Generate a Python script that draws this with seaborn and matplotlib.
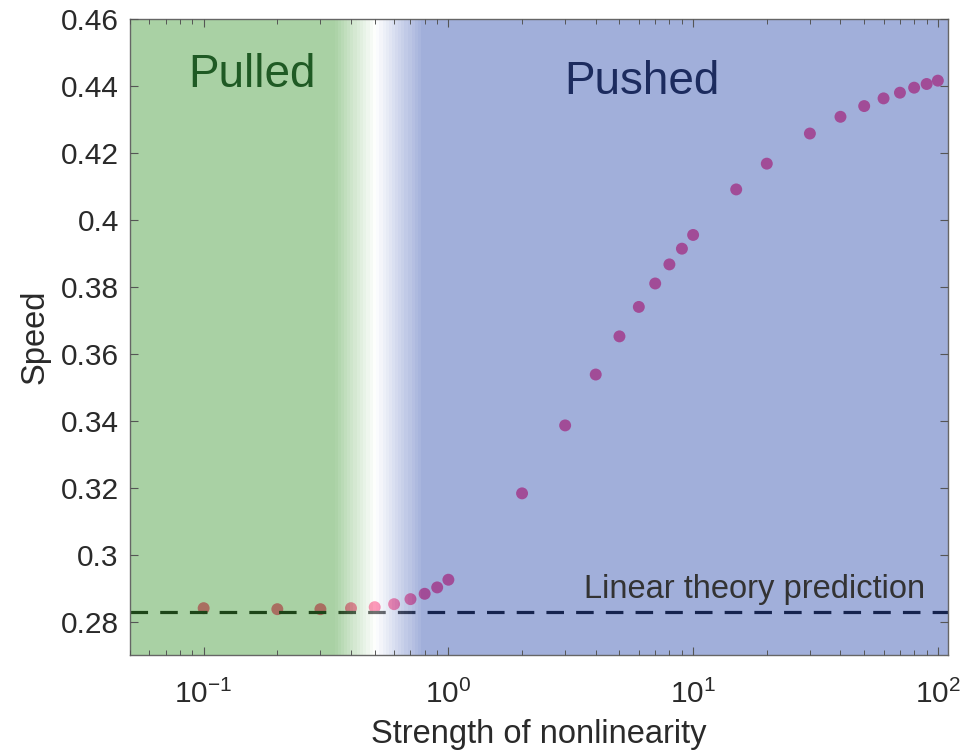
import numpy as np
import pandas as pd
import matplotlib
matplotlib.use("Agg")
import matplotlib.pyplot as plt
import seaborn as sns
from matplotlib.colors import LinearSegmentedColormap, Normalize
from matplotlib.ticker import LogLocator, FuncFormatter, FixedLocator, NullFormatter

# Front speed versus strength of nonlinearity
strength = [0.1, 0.2, 0.3, 0.4, 0.5, 0.6, 0.7, 0.8, 0.9, 1.0,
            2, 3, 4, 5, 6, 7, 8, 9, 10,
            15, 20, 30, 40, 50, 60, 70, 80, 90, 100]
speed = [0.2840, 0.2837, 0.2837, 0.2840, 0.2843, 0.2852, 0.2867, 0.2883, 0.2902, 0.2925,
         0.3183, 0.3386, 0.3538, 0.3652, 0.3740, 0.3810, 0.3867, 0.3914, 0.3955,
         0.4091, 0.4168, 0.4258, 0.4308, 0.4340, 0.4363, 0.4380, 0.4395, 0.4406, 0.4416]
linear_prediction = 0.2828

# Regime shading: pulled (green) -> transition (white) -> pushed (blue)
regime_edges = [0.34, 0.5, 0.78]
regime_colors = ["#429b37", "#ffffff", "#304faf"]
regime_labels = ["Pulled", "Pushed"]

x_limits = (0.05, 110)
y_limits = (0.27, 0.46)
y_ticks = [0.28, 0.30, 0.32, 0.34, 0.36, 0.38, 0.40, 0.42, 0.44, 0.46]

df = pd.DataFrame({"strength": strength, "speed": speed})

sns.set_style("white")
plt.rcParams["font.family"] = ["Liberation Sans", "DejaVu Sans"]
plt.rcParams["mathtext.fontset"] = "custom"
plt.rcParams["mathtext.rm"] = "Liberation Sans"
plt.rcParams["mathtext.it"] = "Liberation Sans:italic"
plt.rcParams["mathtext.bf"] = "Liberation Sans:bold"

fig = plt.figure(figsize=(9.7, 7.53), dpi=100)
ax = fig.add_axes([0.1340, 0.1301, 0.8433, 0.8446])
ax.set_xscale("log")

# data points and the linear-theory reference line (below the shading)
sns.scatterplot(data=df, x="strength", y="speed", s=74, color="#ff4a84",
                edgecolor="none", linewidth=0, zorder=2, ax=ax, legend=False)
ax.axhline(linear_prediction, color="black", lw=2.3,
           linestyle=(0, (5.5, 3.8)), zorder=2)

# translucent gradient overlay laid over points and line
lo, hi = np.log10(x_limits[0]), np.log10(x_limits[1])
stops = [0.0] + [(np.log10(v) - lo) / (hi - lo) for v in regime_edges] + [1.0]
cmap = LinearSegmentedColormap.from_list(
    "regimes", list(zip(stops, [regime_colors[0]] + regime_colors + [regime_colors[-1]])))
xe = np.logspace(lo, hi, 800)
ye = np.array(y_limits)
cvals = np.log10(np.sqrt(xe[:-1] * xe[1:]))[None, :]
ax.pcolormesh(xe, ye, cvals, cmap=cmap, norm=Normalize(lo, hi), alpha=0.45,
              shading="flat", edgecolors="none", antialiased=False, zorder=3)

ax.set_xlim(*x_limits)
ax.set_ylim(*y_limits)

ax.text(0.157, 0.4396, regime_labels[0], fontsize=33, color="#1f5a24",
        ha="center", va="baseline", zorder=6)
ax.text(6.2, 0.4375, regime_labels[1], fontsize=33, color="#1c2b5e",
        ha="center", va="baseline", zorder=6)
ax.text(88.8, 0.2871, "Linear theory prediction", fontsize=23.5, color="#333333",
        ha="right", va="baseline", zorder=6)

# axes styling
ax.xaxis.set_major_locator(LogLocator(base=10, numticks=10))
ax.xaxis.set_minor_locator(LogLocator(base=10, subs=np.arange(2, 10), numticks=20))
ax.xaxis.set_minor_formatter(NullFormatter())
ax.yaxis.set_major_locator(FixedLocator(y_ticks))
ax.yaxis.set_major_formatter(FuncFormatter(lambda v, p: f"{v:g}"))
ax.tick_params(axis="both", which="major", direction="in", length=6, width=0.8,
               color="#555555", labelsize=21.5, labelcolor="#2a2a2a",
               top=True, right=True, bottom=True, left=True)
ax.tick_params(axis="x", which="major", pad=18)
ax.tick_params(axis="y", which="major", pad=8)
ax.tick_params(axis="x", which="minor", direction="in", length=3.5, width=0.7,
               color="#555555", top=True, bottom=True)
for sp in ax.spines.values():
    sp.set_color("#666666")
    sp.set_linewidth(1.0)
    sp.set_zorder(5)
ax.xaxis.set_zorder(5)
ax.yaxis.set_zorder(5)

ax.set_xlabel("Strength of nonlinearity", fontsize=23.5, color="#2a2a2a", labelpad=7)
ax.set_ylabel("Speed", fontsize=23.5, color="#2a2a2a")
ax.yaxis.set_label_coords(-0.097, 0.5)

fig.savefig("out.png", dpi=100)
